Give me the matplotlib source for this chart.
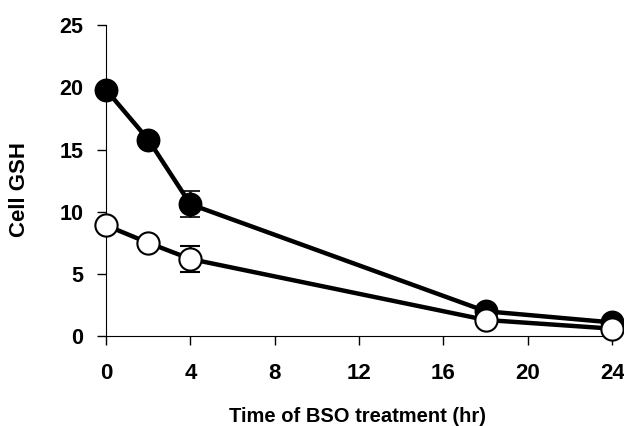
import matplotlib
matplotlib.use("Agg")
import matplotlib.pyplot as plt

time_hr = [0, 2, 4, 18, 24]
filled_gsh = [19.8, 15.8, 10.6, 2.0, 1.1]
filled_err = [0, 0, 1.05, 0, 0]
open_gsh = [8.9, 7.5, 6.2, 1.3, 0.6]
open_err = [0, 0, 1.05, 0, 0]
xticks = [0, 4, 8, 12, 16, 20, 24]
yticks = [0, 5, 10, 15, 20, 25]

plt.rcParams['font.family'] = ['Liberation Sans', 'DejaVu Sans']
plt.rcParams['font.weight'] = 'bold'

fig = plt.figure(figsize=(6.24, 4.26), dpi=100)
ax = fig.add_axes([0.17, 0.211, 0.811, 0.730])

ax.errorbar(time_hr, filled_gsh, yerr=filled_err, color='black', lw=3.2,
            marker='o', ms=16, mfc='black', mec='black', mew=1.2,
            ecolor='black', elinewidth=1.8, capsize=7.5, capthick=1.8, zorder=3, clip_on=False)
ax.errorbar(time_hr, open_gsh, yerr=open_err, color='black', lw=3.2,
            marker='o', ms=16, mfc='white', mec='black', mew=1.5,
            ecolor='black', elinewidth=1.8, capsize=7.5, capthick=1.8, zorder=4, clip_on=False)

ax.set_xlim(0, 24)
ax.set_ylim(0, 25)
ax.set_xticks(xticks)
ax.set_yticks(yticks)
ax.spines['top'].set_visible(False)
ax.spines['right'].set_visible(False)
ax.tick_params(direction='out', length=6.5, width=1)
ax.tick_params(axis='x', labelsize=16, pad=13)
ax.tick_params(axis='y', labelsize=15.5, pad=10)
for lab in ax.get_xticklabels() + ax.get_yticklabels():
    lab.set_fontweight('bold')
ax.set_xlabel('Time of BSO treatment (hr)', fontsize=14.5, fontweight='bold', va='center')
ax.xaxis.set_label_coords(0.497, -0.257)
ax.set_ylabel('Cell GSH', fontsize=16, fontweight='bold', va='center')
ax.yaxis.set_label_coords(-0.172, 0.47)

fig.savefig('out.png', dpi=100)
